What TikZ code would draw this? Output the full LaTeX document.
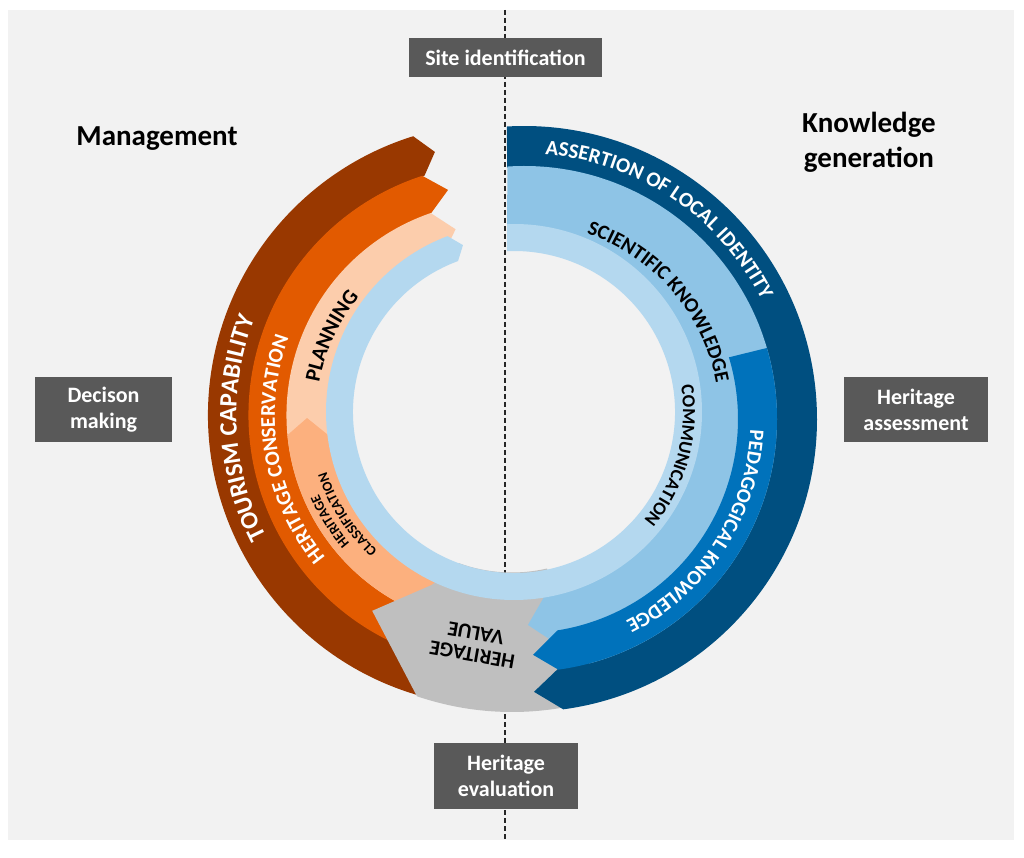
\documentclass[tikz,border=0pt]{standalone}
\usepackage{fontspec}
\setmainfont{Carlito}
\usetikzlibrary{decorations.text}
\definecolor{cBrown}{RGB}{153,56,0}
\definecolor{cOrange}{RGB}{226,90,0}
\definecolor{cPlan}{RGB}{252,205,172}
\definecolor{cClass}{RGB}{252,176,126}
\definecolor{cLight}{RGB}{180,216,239}
\definecolor{cSci}{RGB}{142,196,230}
\definecolor{cPed}{RGB}{0,114,187}
\definecolor{cNavy}{RGB}{0,79,128}
\definecolor{cGray}{RGB}{191,191,191}
\definecolor{cBox}{RGB}{89,89,89}
\definecolor{cBg}{RGB}{242,242,242}
\definecolor{cDash}{RGB}{38,38,38}
\begin{document}
\begin{tikzpicture}[x=1pt,y=1pt,
  box/.style={fill=cBox, text=white, font=\bfseries\fontsize{22}{26}\selectfont, align=center, inner sep=0pt},
  title/.style={font=\bfseries\fontsize{29}{35}\selectfont, align=center, text=black},
  ringlabel/.style={decorate, decoration={text along path, text align=center, text={#1}}}]
\useasboundingbox (0,0) rectangle (1024,857);
\fill[white] (0,0) rectangle (1024,857);
\fill[cBg] (8,17) rectangle (1014,847);
\coordinate (dtop) at (505,847);
\coordinate (dbot) at (505,17);
\draw[cDash, line width=1.5pt, dash pattern=on 5pt off 3pt] (dtop) -- (dbot);

% left group (management)
\begin{scope}[shift={(500,442)}]
\fill[cBrown] (253.5:292) arc[start angle=253.5,end angle=107.3,radius=292] -- (103.9:271) -- (107.5:251) arc[start angle=107.5,end angle=253.5,radius=251] -- cycle;
\fill[cOrange] (253.5:251.5) arc[start angle=253.5,end angle=108,radius=251.5] -- (103:231) -- (108.95:213) arc[start angle=108.95,end angle=253.5,radius=213] -- cycle;
\fill[cPlan] (253.5:213.5) arc[start angle=253.5,end angle=108.95,radius=213.5] -- (103.45:191) -- (109.5:170) arc[start angle=109.5,end angle=253.5,radius=170] -- cycle;
\fill[cClass] (253.5:213.5) arc[start angle=253.5,end angle=185.4,radius=213.5] -- (180.9:193) -- (187.7:170) arc[start angle=187.7,end angle=253.5,radius=170] -- cycle;
\end{scope}

% heritage value (gray)
\begin{scope}[shift={(512,440)}]
\fill[cGray] (251.2:295) arc[start angle=251.2,end angle=285,radius=295] -- (283:155.5) arc[start angle=283,end angle=250,radius=155.5] -- (244.5:186) -- (234.2:239) -- cycle;
\end{scope}

% right group (knowledge)
\begin{scope}[shift={(524,438)}]
\fill[cNavy] (93.33:293) arc[start angle=93.33,end angle=-82.3,radius=293] -- (-87.9:273) -- (-82.2:252) arc[start angle=-82.2,end angle=93.87,radius=252] -- cycle;
\fill[cSci] (93.77:253) arc[start angle=93.77,end angle=-75,radius=253] -- (-83.3:222) -- (-88.9:206) -- (-82.6:175) arc[start angle=-82.6,end angle=95.57,radius=175] -- cycle;
\fill[cPed] (16.3:253) arc[start angle=16.3,end angle=-82.2,radius=253] -- (-87.8:236) -- (-81:214) arc[start angle=-81,end angle=16.75,radius=214] -- cycle;
\end{scope}

% inner ring
\begin{scope}[shift={(514,445)}]
\fill[cLight] (92.13:188) arc[start angle=92.13,end angle=-249.3,radius=188] -- (-253:174.5) -- (-249.65:161) arc[start angle=-249.65,end angle=92.49,radius=161] -- cycle;
\end{scope}

% ring labels
\begin{scope}[shift={(500,442)}]
\path[ringlabel={|\bfseries\fontsize{25}{25}\selectfont\color{white}|TOURISM CAPABILITY}] (243:263.5) arc[start angle=243,end angle=123,radius=263.5];
\path[ringlabel={|\bfseries\fontsize{21}{21}\selectfont\color{white}|HERITAGE CONSERVATION}] (249.5:225) arc[start angle=249.5,end angle=129.5,radius=225];
\path[ringlabel={|\bfseries\fontsize{21.5}{21.5}\selectfont\color{black}|PLANNING}] (195:183.5) arc[start angle=195,end angle=115,radius=183.5];
\path[ringlabel={|\bfseries\fontsize{14}{14}\selectfont\color{black}|HERITAGE}] (240:197.5) arc[start angle=240,end angle=184,radius=197.5];
\path[ringlabel={|\bfseries\fontsize{14}{14}\selectfont\color{black}|CLASSIFICATION}] (243:182.5) arc[start angle=243,end angle=183,radius=182.5];
\end{scope}
\begin{scope}[shift={(524,438)}]
\path[ringlabel={|\bfseries\fontsize{21}{21}\selectfont\color{white}|ASSERTION OF LOCAL IDENTITY}] (96:265.5) arc[start angle=96,end angle=16,radius=265.5];
\path[ringlabel={|\bfseries\fontsize{20.5}{20.5}\selectfont\color{black}|SCIENTIFIC KNOWLEDGE}] (86:195.5) arc[start angle=86,end angle=-4,radius=195.5];
\path[ringlabel={|\bfseries\fontsize{20.5}{20.5}\selectfont\color{white}|PEDAGOGICAL KNOWLEDGE}] (10:226.5) arc[start angle=10,end angle=-76,radius=226.5];
\end{scope}
\begin{scope}[shift={(514,445)}]
\path[ringlabel={|\bfseries\fontsize{18.5}{18.5}\selectfont\color{black}|COMMUNICATION}] (30:169) arc[start angle=30,end angle=-61,radius=169];
\end{scope}
\node[rotate=170, font=\bfseries\fontsize{21}{22}\selectfont, align=center] (hv) at (474,213) {HERITAGE\\VALUE};

% titles
\node[title] (mgmt) at (157,718) {Management};
\node[title] (kg) at (869,714.5) {Knowledge\\generation};

% boxes
\node[box, minimum width=193pt, minimum height=39pt] (site) at (505.5,799.5) {Site identification};
\node[box, minimum width=137pt, minimum height=65pt] (dec) at (103.5,447.5) {Decison\\making};
\node[box, minimum width=144pt, minimum height=65pt] (assess) at (916,447.5) {Heritage\\assessment};
\node[box, minimum width=144pt, minimum height=66pt] (eval) at (506,81) {Heritage\\evaluation};
\end{tikzpicture}
\end{document}
